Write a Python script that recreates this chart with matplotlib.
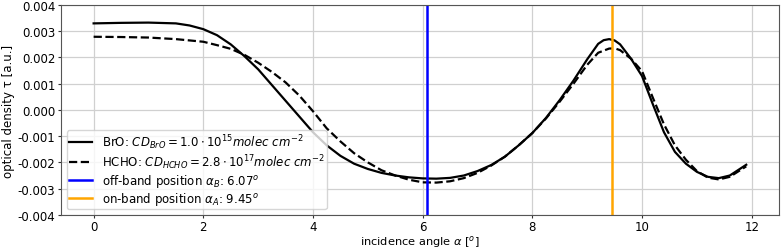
import numpy as np
import matplotlib
matplotlib.use('Agg')
import matplotlib.pyplot as plt

# incidence angle samples [deg]
angle_bro = [0, 0.5, 1.0, 1.5, 1.75, 2.0, 2.25, 2.5, 2.75, 3.0, 3.25, 3.5, 3.75, 4.0,
             4.25, 4.5, 4.75, 5.0, 5.25, 5.5, 5.75, 6.0, 6.25, 6.5, 6.75, 7.0, 7.25,
             7.5, 7.75, 8.0, 8.25, 8.5, 8.75, 9.0, 9.2, 9.3, 9.4, 9.5, 9.6, 9.8, 10.0,
             10.2, 10.4, 10.6, 10.8, 11.0, 11.2, 11.4, 11.6, 11.9]
# optical density BrO [1e-3]
tau_bro = [3.30, 3.32, 3.33, 3.30, 3.22, 3.08, 2.85, 2.50, 2.05, 1.55, 0.95, 0.35, -0.25, -0.85,
           -1.35, -1.75, -2.05, -2.25, -2.40, -2.50, -2.57, -2.61, -2.62, -2.59, -2.50, -2.33, -2.10,
           -1.78, -1.35, -0.88, -0.30, 0.38, 1.12, 1.93, 2.52, 2.66, 2.70, 2.65, 2.50, 1.95, 1.29,
           0.20, -0.85, -1.60, -2.05, -2.36, -2.55, -2.60, -2.50, -2.09]

angle_hcho = [0, 0.5, 1.0, 1.5, 2.0, 2.25, 2.5, 2.75, 3.0, 3.25, 3.5, 3.75, 4.0,
              4.25, 4.5, 4.75, 5.0, 5.25, 5.5, 5.75, 6.0, 6.25, 6.5, 6.75, 7.0, 7.25,
              7.5, 7.75, 8.0, 8.25, 8.5, 8.75, 9.0, 9.2, 9.4, 9.5, 9.6, 9.8, 10.0,
              10.2, 10.4, 10.6, 10.8, 11.0, 11.2, 11.4, 11.6, 11.9]
# optical density HCHO [1e-3]
tau_hcho = [2.79, 2.78, 2.76, 2.70, 2.60, 2.47, 2.33, 2.10, 1.80, 1.45, 1.05, 0.55, -0.05,
            -0.70, -1.20, -1.65, -2.00, -2.30, -2.50, -2.66, -2.76, -2.77, -2.72, -2.60, -2.40, -2.12,
            -1.78, -1.35, -0.88, -0.32, 0.32, 1.00, 1.72, 2.18, 2.34, 2.35, 2.28, 1.95, 1.48,
            0.45, -0.55, -1.35, -1.90, -2.33, -2.58, -2.65, -2.55, -2.15]

alpha_b = 6.07
alpha_a = 9.45

plt.rcParams['font.size'] = 8.5

fig = plt.figure(figsize=(7.82, 2.51), dpi=100)
ax = fig.add_axes([0.078, 0.14, 0.918, 0.836])

ax.plot(angle_bro, np.array(tau_bro) * 1e-3, 'k-', lw=1.6,
        label=r'BrO: $CD_{BrO}=1.0\cdot10^{15}molec\ cm^{-2}$')
ax.plot(angle_hcho, np.array(tau_hcho) * 1e-3, 'k--', lw=1.6,
        label=r'HCHO: $CD_{HCHO}=2.8\cdot10^{17}molec\ cm^{-2}$')
ax.axvline(alpha_b, color='blue', lw=1.8, label=r'off-band position $\alpha_B$: $%.2f^o$' % alpha_b)
ax.axvline(alpha_a, color='orange', lw=1.8, label=r'on-band position $\alpha_A$: $%.2f^o$' % alpha_a)

ax.set_ylim(-0.004, 0.004)
ax.set_xlim(-0.595, 12.495)
ax.set_yticks(np.arange(-0.004, 0.0041, 0.001))
ax.set_yticklabels(['%.3f' % v for v in np.arange(-0.004, 0.0041, 0.001)])
ax.grid(True, color='#d0d0d0', lw=0.9)
ax.set_axisbelow(True)
for s in ax.spines.values():
    s.set_color('#555555')
ax.tick_params(colors='#333333', labelcolor='black', length=2.5, pad=1.5)

ax.set_xlabel(r'incidence angle $\alpha$ [$^o$]', fontsize=8.2, labelpad=0)
ax.set_ylabel('optical density τ [a.u.]', labelpad=2)
ax.legend(loc='lower left', fontsize=8.5, handlelength=2.0,
          labelspacing=0.1, borderpad=0.15)

fig.savefig('out.png', dpi=100)
